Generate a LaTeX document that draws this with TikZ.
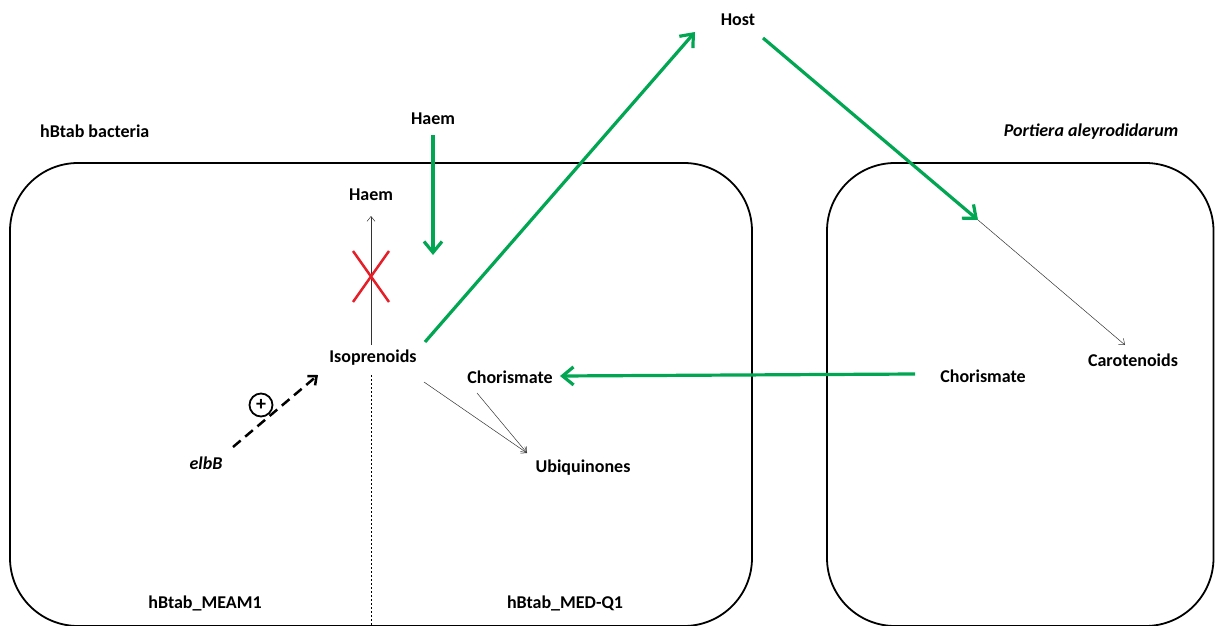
\documentclass[tikz,border=0pt]{standalone}
\usepackage{fontspec}
\setmainfont{Carlito}
\usetikzlibrary{arrows.meta}
\definecolor{grn}{RGB}{0,166,81}
\definecolor{xred}{RGB}{230,30,40}
\begin{document}
\begin{tikzpicture}[x=1pt,y=-1pt,
  lbl/.style={font=\fontsize{18}{20}\selectfont\bfseries, inner sep=1pt},
  ilbl/.style={font=\fontsize{18}{20}\selectfont\bfseries\itshape, inner sep=1pt},
  garrow/.style={draw=grn, line width=3.2pt, -{Straight Barb[length=11pt,width=18pt,line width=3.2pt]}},
  thin/.style={draw=black!80, line width=0.5pt, -{Straight Barb[length=5pt,width=8pt]}},
  cell/.style={draw=black, line width=1.8pt, rounded corners=68pt}]
\useasboundingbox (0,0) rectangle (1215,626);
\begin{scope}
\clip (0,0) rectangle (1215,626);
\draw[cell] (10,163) rectangle (752,626);
\draw[cell] (827,163) rectangle (1213.5,626);
\draw[black, line width=0.6pt, dash pattern=on 2pt off 2pt] (371,375) -- (371,626);
\end{scope}

\node[lbl] (host) at (738,20) {Host};
\node[lbl] (haemout) at (433,119) {Haem};
\node[lbl, anchor=west] (hbtab) at (39,131) {hBtab bacteria};
\node[ilbl] (portiera) at (1091,132) {Portiera aleyrodidarum};
\node[lbl] (haemin) at (371,195) {Haem};
\node[lbl] (iso) at (373,358) {Isoprenoids};
\node[lbl] (chorL) at (510,377) {Chorismate};
\node[lbl] (chorR) at (983,376) {Chorismate};
\node[lbl] (carot) at (1133,360) {Carotenoids};
\node[lbl] (ubi) at (583,468) {Ubiquinones};
\node[ilbl] (elbb) at (206,463) {elbB};
\node[lbl] (meam) at (205,603) {hBtab\_MEAM1};
\node[lbl] (medq) at (565,603) {hBtab\_MED-Q1};

\coordinate (haemtip) at (433,255);
\coordinate (isoS) at (425,342);
\coordinate (hostIn) at (695,32);
\coordinate (hostOut) at (763,38);
\coordinate (pj) at (978,220);
\coordinate (carotIn) at (1125,345);
\coordinate (chorRS) at (915,374);
\coordinate (chorLE) at (560,376);
\coordinate (isoUp) at (371,345);
\coordinate (haemBot) at (371,216);
\coordinate (isoD) at (424,382);
\coordinate (chorD) at (477,393);
\coordinate (ubiIn) at (527,453);
\coordinate (elbS) at (233,447);
\coordinate (isoIn) at (318,375);

\draw[garrow] (433,135) -- (haemtip);
\draw[garrow] (isoS) -- (hostIn);
\draw[garrow] (hostOut) -- (pj);
\draw[thin] (pj) -- (carotIn);
\draw[garrow] (chorRS) -- (chorLE);
\draw[thin] (isoUp) -- (haemBot);
\draw[thin] (isoD) -- (ubiIn);
\draw[thin] (chorD) -- (ubiIn);

\draw[xred, line width=2.5pt] (353,251) -- (389,302);
\draw[xred, line width=2.5pt] (389,251) -- (353,302);

\draw[black, line width=2.5pt, dash pattern=on 10pt off 6pt, -{Straight Barb[length=7pt,width=12pt,line width=2.5pt]}] (elbS) -- (isoIn);
\node[draw, circle, line width=1.8pt, minimum size=23pt, inner sep=0pt, fill=white, font=\fontsize{20}{20}\selectfont\bfseries] (plus) at (261,405) {+};
\end{tikzpicture}
\end{document}
